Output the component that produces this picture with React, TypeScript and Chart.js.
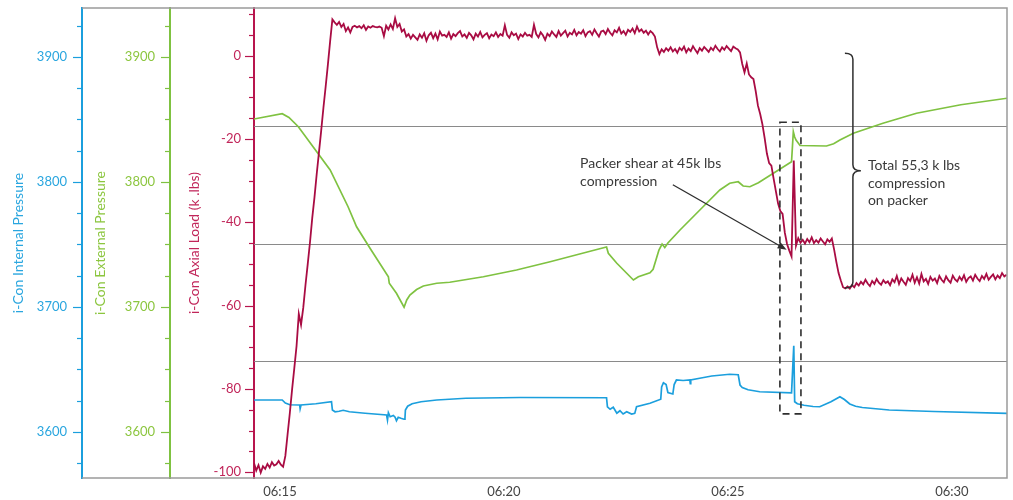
import { useEffect, useRef } from "react";
import { Chart, registerables } from "chart.js";

Chart.register(...registerables);

// ---------- DATA ----------
// time is expressed in minutes after 06:00
const xMin = 14.42;
const xMax = 31.23;
const xTickValues = [15, 20, 25, 30];
const xTickLabels = ["06:15", "06:20", "06:25", "06:30"];

// i-Con Axial Load (k .lbs), sampled every 0.05 min starting at axialStart
const axialStart = 14.42;
const axialStep = 0.05;
const axialLoad = [
  -97.8, -99.6, -98.3, -100.1, -98.6, -99.2, -98.0, -98.9, -97.6, -98.4,
  -98.1, -97.3, -98.2, -98.7, -96.1, -90.9, -85.8, -80.2, -75.0, -69.7,
  -62.0, -64.6, -60.5, -55.0, -50.0, -44.8, -39.0, -34.0, -28.4, -23.2,
  -18.0, -12.5, -7.4, -2.1, 3.5, 8.7, 8.0, 7.4, 8.1, 6.9,
  7.6, 5.9, 6.8, 5.6, 6.9, 7.2, 6.8, 7.1, 6.6, 7.3,
  6.2, 7.0, 6.7, 7.1, 6.9, 6.8, 7.0, 6.7, 4.7, 7.2,
  6.3, 7.5, 6.4, 9.0, 6.9, 7.6, 5.8, 6.3, 4.6, 5.2,
  4.1, 5.0, 4.4, 3.8, 5.1, 4.3, 5.4, 3.6, 4.9, 5.5,
  4.2, 5.3, 3.9, 5.8, 4.8, 5.0, 4.5, 5.6, 4.1, 5.2,
  4.7, 5.4, 5.9, 4.6, 5.1, 4.3, 5.5, 4.9, 3.9, 5.3,
  4.6, 5.7, 4.4, 5.0, 5.4, 4.2, 5.1, 4.7, 5.6, 4.5,
  5.2, 4.8, 7.3, 5.0, 4.3, 5.6, 4.9, 5.3, 4.0, 5.1,
  4.6, 5.5, 4.8, 5.0, 4.5, 7.4, 5.2, 4.4, 5.6, 4.9,
  3.8, 5.3, 4.7, 5.8, 5.1, 4.5, 5.9, 4.8, 5.4, 6.0,
  4.6, 5.5, 5.1, 6.2, 4.9, 5.7, 5.3, 6.1, 4.7, 5.6,
  5.9, 5.0, 6.3, 5.4, 4.6, 5.8, 6.0, 5.2, 6.4, 5.5,
  4.9, 6.1, 5.6, 6.7, 5.3, 5.9, 5.0, 6.2, 5.7, 6.5,
  5.4, 7.0, 5.8, 6.3, 5.5, 6.0, 5.1, 5.9, 5.4, 4.6,
  2.0, 0.4, 1.5, 0.9, 1.8, 1.2, 2.0, 1.0, 1.6, 0.7,
  1.9, 1.3, 2.2, 0.8, 1.7, 1.1, 2.3, 1.4, 0.6, 1.8,
  1.2, 2.1, 1.5, 0.9, 1.9, 1.3, 2.4, 1.6, 1.0, 2.0,
  1.4, 2.3, 1.7, 1.1, 2.2, 1.8, 1.5, 0.8, -2.0, -4.0,
  -1.9, -4.5, -5.2, -5.6, -8.5, -12.0, -14.0, -16.5, -19.8, -23.5,
  -25.8, -26.4, -29.5, -32.5, -35.5, -37.3, -38.0, -42.5, -45.2, -46.8,
  -48.2, -25.2, -45.6, -43.8, -44.9, -44.2, -45.1, -44.0, -44.8, -43.6,
  -45.0, -44.3, -44.9, -43.9, -44.6, -45.3, -44.1, -44.7, -43.9, -46.5,
  -49.5, -52.2, -54.0, -55.6, -55.9, -55.4, -55.9, -55.1, -55.6, -54.6,
  -55.2, -54.3, -54.9, -53.8, -54.7, -55.3, -54.1, -54.8, -53.6, -54.5,
  -55.0, -53.9, -54.6, -54.2, -55.1, -53.7, -54.4, -52.9, -54.8, -53.5,
  -54.3, -55.0, -53.4, -54.1, -52.6, -54.5, -53.2, -54.7, -52.4, -54.2,
  -53.6, -54.8, -53.1, -54.0, -53.5, -54.6, -52.9, -53.8, -54.4, -53.0,
  -53.9, -54.5, -52.8, -53.7, -54.2, -53.1, -53.9, -52.7, -54.3, -53.4,
  -53.0, -54.0, -52.6, -53.5, -54.1, -52.9, -53.6, -52.4, -53.8, -53.1,
  -52.5, -53.7, -52.8, -53.4, -52.2, -53.0, -52.6,
];

// i-Con External Pressure
const extTimes = [
  14.42, 15.05, 15.2, 15.41, 16.12, 16.52, 16.71, 17.01, 17.42, 17.44,
  17.6, 17.77, 17.83, 17.9, 18.05, 18.2, 18.5, 18.79, 19.54, 20.28,
  21.03, 22.03, 22.29, 22.33, 22.52, 22.89, 23.0, 23.26, 23.33, 23.46,
  23.53, 23.59, 23.66, 23.93, 24.44, 24.82, 25.04, 25.23, 25.34, 25.49,
  25.68, 26.42, 26.46, 26.49, 26.52, 26.61, 27.2, 27.36, 27.5, 27.8,
  28.46, 29.21, 30.2, 31.23,
];
const extPressure = [
  3850.4, 3854.6, 3851.6, 3844.2, 3809.6, 3780.2, 3764.2, 3747.0, 3724.2, 3719.0,
  3711.0, 3699.8, 3705.6, 3709.6, 3714.0, 3716.8, 3719.0, 3719.8, 3724.2, 3729.6,
  3736.2, 3745.6, 3748.0, 3743.0, 3735.0, 3721.6, 3724.2, 3727.4, 3730.2, 3745.6,
  3750.4, 3747.6, 3751.2, 3761.6, 3780.0, 3793.6, 3799.0, 3800.2, 3796.8, 3796.2,
  3799.4, 3816.2, 3840.2, 3836.0, 3833.6, 3829.2, 3828.8, 3830.6, 3833.6, 3839.0,
  3847.0, 3855.0, 3861.8, 3867.0,
];

// i-Con Internal Pressure
const intTimes = [
  14.42, 15.05, 15.12, 15.22, 15.44, 15.45, 15.47, 15.8, 16.15, 16.17,
  16.23, 16.32, 16.41, 16.55, 16.9, 17.38, 17.4, 17.42, 17.46, 17.53,
  17.57, 17.6, 17.64, 17.7, 17.77, 17.79, 17.8, 17.85, 17.95, 18.15,
  18.5, 19.15, 20.36, 22.29, 22.31, 22.37, 22.44, 22.52, 22.59, 22.66,
  22.74, 22.85, 22.92, 22.96, 23.26, 23.5, 23.52, 23.56, 23.62, 23.66,
  23.77, 23.8, 23.85, 24.0, 24.15, 24.16, 24.17, 24.4, 24.64, 25.04,
  25.23, 25.27, 25.32, 25.45, 25.71, 26.42, 26.47, 26.49, 26.55, 26.7,
  26.9, 27.05, 27.3, 27.5, 27.6, 27.72, 27.85, 28.0, 28.6, 29.6,
  31.23,
];
const intPressure = [
  3625.6, 3625.6, 3623.2, 3621.8, 3621.6, 3618.6, 3621.6, 3622.6, 3624.2, 3617.6,
  3616.2, 3616.6, 3617.4, 3616.2, 3615.0, 3613.6, 3609.6, 3615.4, 3612.2, 3613.2,
  3611.8, 3609.0, 3611.8, 3611.0, 3610.2, 3611.0, 3617.6, 3620.6, 3622.6, 3624.2,
  3625.6, 3627.0, 3627.6, 3627.4, 3620.2, 3618.2, 3619.8, 3615.0, 3617.0, 3614.4,
  3616.2, 3614.4, 3614.9, 3620.2, 3623.0, 3626.2, 3636.0, 3639.4, 3638.0, 3631.6,
  3630.4, 3638.0, 3641.6, 3641.2, 3641.6, 3638.6, 3641.6, 3643.2, 3644.8, 3646.2,
  3645.8, 3637.6, 3635.6, 3633.8, 3632.2, 3631.4, 3669.0, 3624.2, 3622.6, 3621.4,
  3620.4, 3620.2, 3624.2, 3628.2, 3626.0, 3622.4, 3620.6, 3619.6, 3617.6, 3616.4,
  3614.9,
];

// axis ranges and ticks
const pressureMin = 3563.2;
const pressureMax = 3939.2;
const pressureTicks = [3575, 3600, 3625, 3650, 3675, 3700, 3725, 3750, 3775, 3800, 3825, 3850, 3875, 3900, 3925];
const pressureLabelStep = 100;
const loadMin = -101.4;
const loadMax = 11.45;
const loadTicks = [-100, -95, -90, -85, -80, -75, -70, -65, -60, -55, -50, -45, -40, -35, -30, -25, -20, -15, -10, -5, 0, 5, 10];
const loadLabelStep = 20;

// horizontal reference lines (axial load units)
const refLines = [-17.0, -45.3, -73.3];

// annotations (minutes, axial load units)
const shearText = ["Packer shear at 45k lbs", "compression"];
const shearTextAt = { t: 21.7, v: -26.0 };
const shearArrowFrom = { t: 23.77, v: -31.0 };
const shearArrowTo = { t: 26.31, v: -46.6 };
const shearBox = { t0: 26.16, t1: 26.63, v0: -16.0, v1: -86.0 };
const totalText = ["Total 55,3 k lbs", "compression", "on packer"];
const totalTextAt = { t: 28.125, v: -26.4 };
const brace = { t: 27.79, vTop: 0.6, vBottom: -55.8 };

// ---------- STYLE ----------
const FONT = "Lato, 'Open Sans', sans-serif";
const BLUE = "#1b9fdd";
const BLUE_TXT = "#2aa6df";
const GREEN = "#7fc241";
const GREEN_TXT = "#8cc63f";
const RED = "#a90c43";
const RED_AX = "#b8154e";
const RED_TXT = "#c1265a";
const FRAME = "#9a9a9a";
const REF = "#8a8a8a";
const INK = "#2e2e2e";

const decorPlugin = {
  id: "decor",
  beforeDatasetsDraw(chart: any) {
    const { ctx, chartArea: ca, scales } = chart;
    const yR = scales.yR;
    ctx.save();
    ctx.strokeStyle = REF;
    ctx.lineWidth = 1.2;
    refLines.forEach((v) => {
      const y = Math.round(yR.getPixelForValue(v)) + 0.5;
      ctx.beginPath();
      ctx.moveTo(ca.left, y);
      ctx.lineTo(ca.right, y);
      ctx.stroke();
    });
    ctx.restore();
  },
  afterDraw(chart: any) {
    const { ctx, chartArea: ca, scales } = chart;
    const x = scales.x;
    const yR = scales.yR;
    ctx.save();

    // frame
    ctx.strokeStyle = FRAME;
    ctx.lineWidth = 1.5;
    ctx.beginPath();
    ctx.moveTo(scales.yB.right, ca.top);
    ctx.lineTo(ca.right, ca.top);
    ctx.lineTo(ca.right, ca.bottom);
    ctx.lineTo(scales.yB.right, ca.bottom);
    ctx.stroke();

    // tick marks
    const drawTicks = (scale: any, color: string, step: number) => {
      ctx.strokeStyle = color;
      ctx.lineWidth = 1.2;
      scale.ticks.forEach((tk: any) => {
        const major = Math.abs(tk.value % step) < 1e-6;
        const len = major ? 9 : 5;
        const y = Math.round(scale.getPixelForValue(tk.value)) + 0.5;
        ctx.beginPath();
        ctx.moveTo(scale.right - len, y);
        ctx.lineTo(scale.right, y);
        ctx.stroke();
      });
    };
    drawTicks(scales.yB, BLUE, pressureLabelStep);
    drawTicks(scales.yG, GREEN, pressureLabelStep);
    drawTicks(yR, RED_AX, loadLabelStep);

    // dashed box
    const bx0 = x.getPixelForValue(shearBox.t0);
    const bx1 = x.getPixelForValue(shearBox.t1);
    const by0 = yR.getPixelForValue(shearBox.v0);
    const by1 = yR.getPixelForValue(shearBox.v1);
    ctx.strokeStyle = INK;
    ctx.lineWidth = 1.6;
    ctx.setLineDash([7, 5]);
    ctx.strokeRect(bx0, by0, bx1 - bx0, by1 - by0);
    ctx.setLineDash([]);

    // arrow
    const ax0 = x.getPixelForValue(shearArrowFrom.t);
    const ay0 = yR.getPixelForValue(shearArrowFrom.v);
    const ax1 = x.getPixelForValue(shearArrowTo.t);
    const ay1 = yR.getPixelForValue(shearArrowTo.v);
    const ang = Math.atan2(ay1 - ay0, ax1 - ax0);
    ctx.strokeStyle = INK;
    ctx.fillStyle = INK;
    ctx.lineWidth = 1.3;
    ctx.beginPath();
    ctx.moveTo(ax0, ay0);
    ctx.lineTo(ax1 - 6 * Math.cos(ang), ay1 - 6 * Math.sin(ang));
    ctx.stroke();
    ctx.beginPath();
    ctx.moveTo(ax1, ay1);
    ctx.lineTo(ax1 - 9 * Math.cos(ang) + 3.5 * Math.sin(ang), ay1 - 9 * Math.sin(ang) - 3.5 * Math.cos(ang));
    ctx.lineTo(ax1 - 9 * Math.cos(ang) - 3.5 * Math.sin(ang), ay1 - 9 * Math.sin(ang) + 3.5 * Math.cos(ang));
    ctx.closePath();
    ctx.fill();

    // brace
    const cx = x.getPixelForValue(brace.t);
    const top = yR.getPixelForValue(brace.vTop);
    const bot = yR.getPixelForValue(brace.vBottom);
    const mid = (top + bot) / 2;
    ctx.lineWidth = 1.5;
    ctx.beginPath();
    ctx.moveTo(cx - 8, top);
    ctx.quadraticCurveTo(cx, top, cx, top + 6);
    ctx.lineTo(cx, mid - 6);
    ctx.quadraticCurveTo(cx, mid, cx + 8, mid);
    ctx.quadraticCurveTo(cx, mid, cx, mid + 6);
    ctx.lineTo(cx, bot - 6);
    ctx.quadraticCurveTo(cx, bot, cx - 8, bot);
    ctx.stroke();

    // texts
    ctx.fillStyle = "#3a3a3a";
    ctx.font = `14px ${FONT}`;
    ctx.textBaseline = "middle";
    ctx.textAlign = "left";
    const lh = 17.5;
    const sx = x.getPixelForValue(shearTextAt.t);
    const sy = yR.getPixelForValue(shearTextAt.v);
    shearText.forEach((s, i) => ctx.fillText(s, sx, sy + i * lh));
    const tx = x.getPixelForValue(totalTextAt.t);
    const ty = yR.getPixelForValue(totalTextAt.v);
    totalText.forEach((s, i) => ctx.fillText(s, tx, ty + i * lh));

    ctx.restore();
  },
};

const hiddenGrid = { display: true, drawOnChartArea: false, drawTicks: true, color: "rgba(0,0,0,0)" };

export default function App() {
  const ref = useRef<HTMLCanvasElement | null>(null);

  useEffect(() => {
    if (!ref.current) return;
    const chart = new Chart(ref.current, {
      type: "line",
      data: {
        datasets: [
          {
            label: "i-Con Axial Load (k .lbs)",
            data: axialLoad.map((v, i) => ({ x: axialStart + i * axialStep, y: v })),
            yAxisID: "yR",
            borderColor: RED,
            borderWidth: 1.8,
            pointRadius: 0,
            tension: 0,
          },
          {
            label: "i-Con External Pressure",
            data: extTimes.map((t, i) => ({ x: t, y: extPressure[i] })),
            yAxisID: "yG",
            borderColor: GREEN,
            borderWidth: 1.7,
            pointRadius: 0,
            tension: 0,
          },
          {
            label: "i-Con Internal Pressure",
            data: intTimes.map((t, i) => ({ x: t, y: intPressure[i] })),
            yAxisID: "yB",
            borderColor: BLUE,
            borderWidth: 1.7,
            pointRadius: 0,
            tension: 0,
          },
        ],
      },
      options: {
        animation: false,
        responsive: false,
        maintainAspectRatio: false,
        devicePixelRatio: 1,
        layout: { padding: { top: 8, right: 6, bottom: 0, left: 0 } },
        plugins: { legend: { display: false }, tooltip: { enabled: false } },
        scales: {
          x: {
            type: "linear",
            min: xMin,
            max: xMax,
            afterBuildTicks: (s: any) => {
              s.ticks = xTickValues.map((v) => ({ value: v }));
            },
            ticks: {
              autoSkip: false,
              maxRotation: 0,
              padding: 0,
              color: "#444",
              font: { family: FONT, size: 13 },
              callback: (v: any) => xTickLabels[xTickValues.indexOf(Number(v))] ?? "",
            },
            grid: { ...hiddenGrid, tickLength: 6 },
            border: { display: false },
            afterFit: (s: any) => {
              s.height = 22;
            },
          },
          yB: {
            type: "linear",
            position: "left",
            weight: 3,
            min: pressureMin,
            max: pressureMax,
            afterBuildTicks: (s: any) => {
              s.ticks = pressureTicks.map((v) => ({ value: v }));
            },
            ticks: {
              autoSkip: false,
              padding: 0,
              color: BLUE_TXT,
              font: { family: FONT, size: 13 },
              callback: (v: any) => (Number(v) % pressureLabelStep === 0 ? String(v) : ""),
            },
            grid: { ...hiddenGrid, tickLength: 15 },
            border: { display: true, color: BLUE, width: 2 },
            title: {
              display: true,
              text: "i-Con Internal Pressure",
              color: BLUE_TXT,
              font: { family: FONT, size: 14 },
              padding: { top: 10.5, bottom: 0 },
            },
            afterFit: (s: any) => {
              s.width = 82;
            },
          },
          yG: {
            type: "linear",
            position: "left",
            weight: 2,
            min: pressureMin,
            max: pressureMax,
            afterBuildTicks: (s: any) => {
              s.ticks = pressureTicks.map((v) => ({ value: v }));
            },
            ticks: {
              autoSkip: false,
              padding: 0,
              color: GREEN_TXT,
              font: { family: FONT, size: 13 },
              callback: (v: any) => (Number(v) % pressureLabelStep === 0 ? String(v) : ""),
            },
            grid: { ...hiddenGrid, tickLength: 15 },
            border: { display: true, color: GREEN, width: 2 },
            title: {
              display: true,
              text: "i-Con External Pressure",
              color: GREEN_TXT,
              font: { family: FONT, size: 14 },
              padding: { top: 10.5, bottom: 0 },
            },
            afterFit: (s: any) => {
              s.width = 88;
            },
          },
          yR: {
            type: "linear",
            position: "left",
            weight: 1,
            min: loadMin,
            max: loadMax,
            afterBuildTicks: (s: any) => {
              s.ticks = loadTicks.map((v) => ({ value: v }));
            },
            ticks: {
              autoSkip: false,
              padding: 0,
              color: RED_TXT,
              font: { family: FONT, size: 13 },
              callback: (v: any) => (Number(v) % loadLabelStep === 0 ? String(v) : ""),
            },
            grid: { ...hiddenGrid, tickLength: 13 },
            border: { display: true, color: RED_AX, width: 2 },
            title: {
              display: true,
              text: "i-Con Axial Load (k .lbs)",
              color: RED_TXT,
              font: { family: FONT, size: 14 },
              padding: { top: 16.5, bottom: 0 },
            },
            afterFit: (s: any) => {
              s.width = 84;
            },
          },
        },
      },
      plugins: [decorPlugin],
    } as any);
    return () => chart.destroy();
  }, []);

  return (
    <div style={{ position: "absolute", left: 0, top: 0, width: 1013, height: 500, background: "#fff" }}>
      <canvas ref={ref} width={1013} height={500} style={{ display: "block" }} />
    </div>
  );
}
